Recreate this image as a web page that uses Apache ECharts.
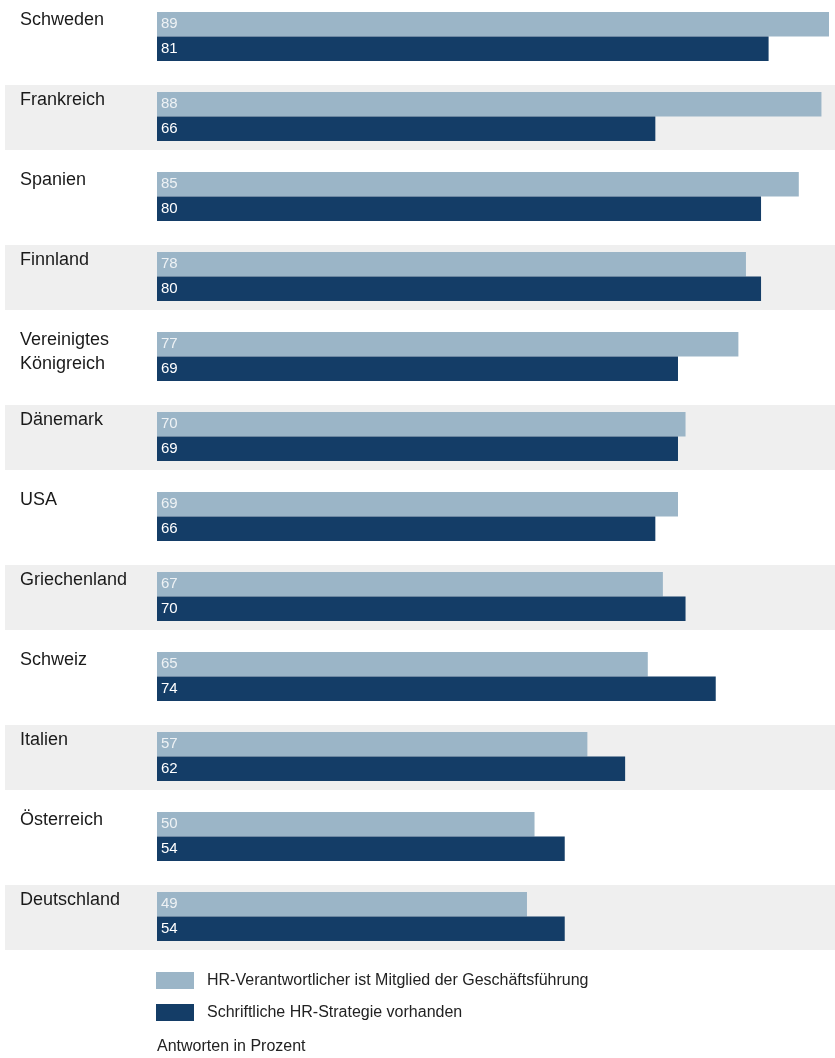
<!DOCTYPE html>
<html>
<head>
<meta charset="utf-8">
<script src="https://cdn.jsdelivr.net/npm/echarts@6/dist/echarts.min.js"></script>
<style>
  html, body { margin: 0; padding: 0; background: #fff; }
  #chart { width: 835px; height: 1058px; }
</style>
</head>
<body>
<div id="chart"></div>
<script>
// Länder von oben nach unten
const countries = ['Schweden', 'Frankreich', 'Spanien', 'Finnland', 'Vereinigtes\nKönigreich', 'Dänemark',
  'USA', 'Griechenland', 'Schweiz', 'Italien', 'Österreich', 'Deutschland']
const hrBoard = [89, 88, 85, 78, 77, 70, 69, 67, 65, 57, 50, 49]
const hrStrategy = [81, 66, 80, 80, 69, 69, 66, 70, 74, 62, 54, 54]
const seriesNames = ['HR-Verantwortlicher ist Mitglied der Geschäftsführung', 'Schriftliche HR-Strategie vorhanden']
const note = 'Antworten in Prozent'

const colorLight = '#9bb5c7'
const colorDark = '#143d67'
const font = '"Liberation Sans", Arial, sans-serif'

const myChart = echarts.init(document.getElementById('chart'))

// grauer Hintergrund jede zweite Zeile
const bandData = countries.map((c, i) => (i % 2 === 1 ? 1 : '-'))

const option = {
  animation: false,
  textStyle: { fontFamily: font },
  title: {
    text: note,
    left: 157,
    top: 1039,
    padding: 0,
    textStyle: { fontSize: 16, fontWeight: 'normal', color: '#222', fontFamily: font }
  },
  legend: {
    data: seriesNames,
    orient: 'vertical',
    left: 156,
    top: 972,
    padding: 0,
    itemWidth: 38,
    itemHeight: 17,
    itemGap: 15,
    icon: 'rect',
    selectedMode: false,
    textStyle: { fontSize: 16, color: '#222', padding: [0, 0, 0, 8], fontFamily: font }
  },
  grid: [
    { left: 5, right: 0, top: -2.5, height: 960, outerBoundsMode: 'none' },
    { left: 157, right: 6, top: -3.5, height: 960, outerBoundsMode: 'none' }
  ],
  xAxis: [
    { gridIndex: 0, type: 'value', min: 0, max: 1, show: false },
    { gridIndex: 1, type: 'value', min: 0, max: 89, show: false }
  ],
  yAxis: [
    { gridIndex: 0, type: 'category', data: countries, inverse: true, show: false },
    {
      gridIndex: 1,
      type: 'category',
      data: countries,
      inverse: true,
      z: 10,
      axisLine: { show: false },
      axisTick: { show: false },
      axisLabel: {
        interval: 0,
        align: 'left',
        margin: 137,
        verticalAlign: 'top',
        lineHeight: 24,
        padding: [-28, 0, 0, 0],
        fontSize: 18,
        color: '#1a1a1a',
        fontFamily: font
      }
    }
  ],
  series: [
    {
      type: 'bar',
      xAxisIndex: 0,
      yAxisIndex: 0,
      data: bandData,
      barWidth: 65,
      z: -1,
      itemStyle: { color: '#efefef' },
      silent: true
    },
    {
      name: seriesNames[0],
      type: 'bar',
      xAxisIndex: 1,
      yAxisIndex: 1,
      data: hrBoard,
      barWidth: 24.5,
      barGap: '0%',
      itemStyle: { color: colorLight },
      label: { show: true, position: 'insideLeft', distance: 4, fontSize: 15, color: '#eef2f5', fontFamily: font }
    },
    {
      name: seriesNames[1],
      type: 'bar',
      xAxisIndex: 1,
      yAxisIndex: 1,
      data: hrStrategy,
      barWidth: 24.5,
      barGap: '0%',
      itemStyle: { color: colorDark },
      label: { show: true, position: 'insideLeft', distance: 4, fontSize: 15, color: '#fff', fontFamily: font }
    }
  ]
}

myChart.setOption(option)
</script>
</body>
</html>
